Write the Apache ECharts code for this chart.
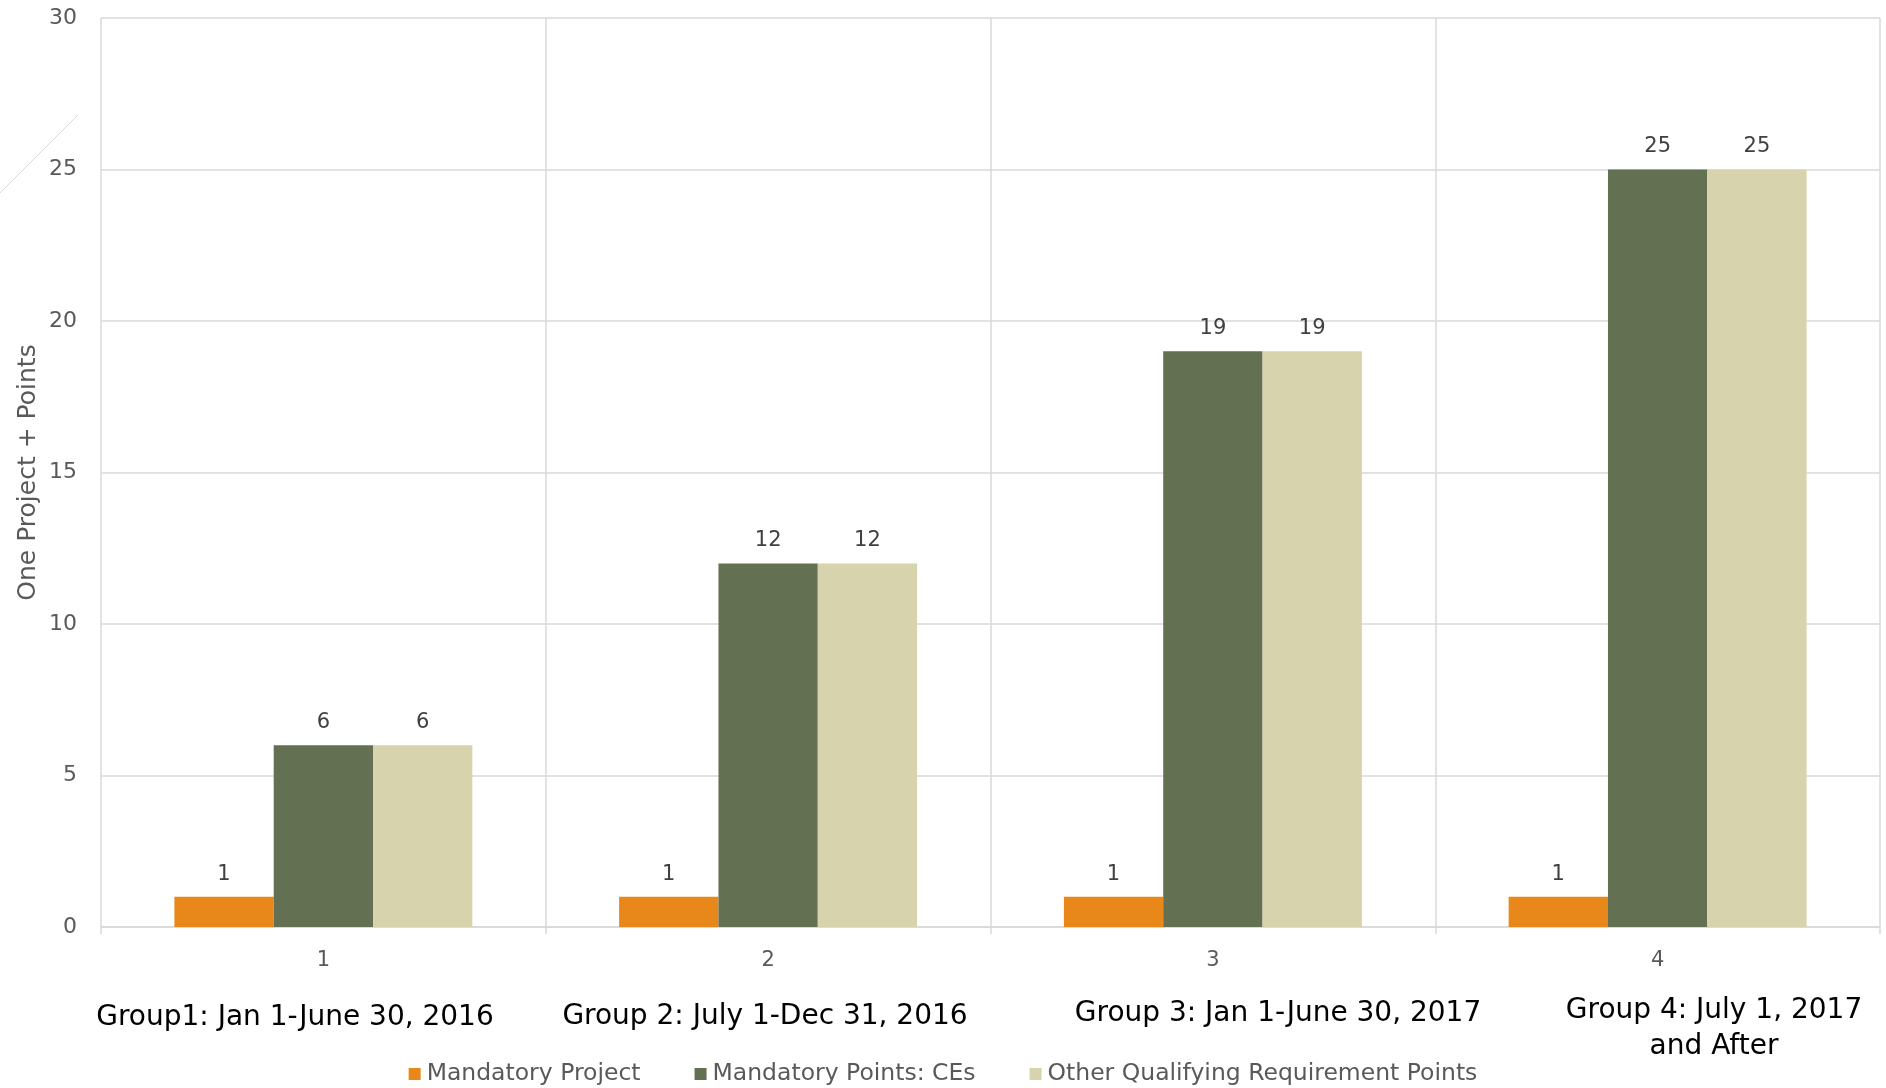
<!DOCTYPE html>
<html>
<head>
<meta charset="utf-8">
<script src="https://cdn.jsdelivr.net/npm/echarts@6/dist/echarts.min.js"></script>
<style>html,body{margin:0;padding:0;background:#fff}#c{width:1886px;height:1088px}</style>
</head>
<body>
<div id="c"></div>
<script>
const categories = ['1', '2', '3', '4'];
const groupTitles = ['Group1: Jan 1-June 30, 2016', 'Group 2: July 1-Dec 31, 2016', 'Group 3: Jan 1-June 30, 2017', 'Group 4: July 1, 2017\nand After'];
const seriesNames = ['Mandatory Project', 'Mandatory Points: CEs', 'Other Qualifying Requirement Points'];
const mandatoryProject = [1, 1, 1, 1];
const mandatoryCEs = [6, 12, 19, 25];
const otherPoints = [6, 12, 19, 25];
const yTicks = { min: 0, max: 30, interval: 5 };
const axisTitle = 'One Project + Points';

const FONT = 'DejaVu Sans';
const colors = ['#E8871A', '#637052', '#D7D3AD'];
const chart = echarts.init(document.getElementById('c'), null, { renderer: 'canvas' });

function mk(name, data, color) {
  return {
    name, type: 'bar', data, barGap: '0%', barCategoryGap: '33%',
    itemStyle: { color },
    label: { show: true, position: 'top', distance: 12, color: '#404040', fontFamily: FONT, fontSize: 21 }
  };
}

const titlePos = [[295, 1018], [765, 1017], [1278, 1014], [1714, 1029]];

chart.setOption({
  animation: false,
  backgroundColor: '#fff',
  color: colors,
  grid: { left: 101, right: 6, top: 18, bottom: 161 },
  legend: {
    data: seriesNames, left: 'center', top: 1057, icon: 'rect', itemWidth: 12, itemHeight: 12,
    itemGap: 54,
    textStyle: { color: '#595959', fontFamily: FONT, fontSize: 23.5, padding: [0, 0, 0, 1] }
  },
  xAxis: {
    type: 'category', data: categories,
    axisLine: { lineStyle: { color: '#d9d9d9', width: 1.5 } },
    axisTick: { show: true, length: 7, lineStyle: { color: '#d9d9d9', width: 1.5 } },
    axisLabel: { color: '#595959', fontFamily: FONT, fontSize: 21, margin: 23 },
    splitLine: { show: true, lineStyle: { color: '#d9d9d9', width: 1.5 } }
  },
  yAxis: {
    type: 'value', min: yTicks.min, max: yTicks.max, interval: yTicks.interval,
    name: axisTitle, nameLocation: 'middle', nameGap: 60, nameRotate: 90, nameMoveOverlap: false,
    nameTextStyle: { color: '#595959', fontFamily: FONT, fontSize: 25 },
    axisLine: { show: false }, axisTick: { show: false },
    axisLabel: { color: '#595959', fontFamily: FONT, fontSize: 22, margin: 24 },
    splitLine: { lineStyle: { color: '#d9d9d9', width: 1.5 } }
  },
  series: [
    mk(seriesNames[0], mandatoryProject, colors[0]),
    mk(seriesNames[1], mandatoryCEs, colors[1]),
    mk(seriesNames[2], otherPoints, colors[2])
  ],
  graphic: [
    { type: 'line', shape: { x1: 0, y1: 193, x2: 78, y2: 115 }, style: { stroke: '#d9d9d9', lineWidth: 1 }, silent: true }
  ].concat(groupTitles.map((t, i) => ({
    type: 'text', x: titlePos[i][0], y: titlePos[i][1],
    style: { text: t, fill: '#000', font: '28px "DejaVu Sans"', textAlign: 'center', textVerticalAlign: 'middle', lineHeight: 36 }
  })))
});
</script>
</body>
</html>
